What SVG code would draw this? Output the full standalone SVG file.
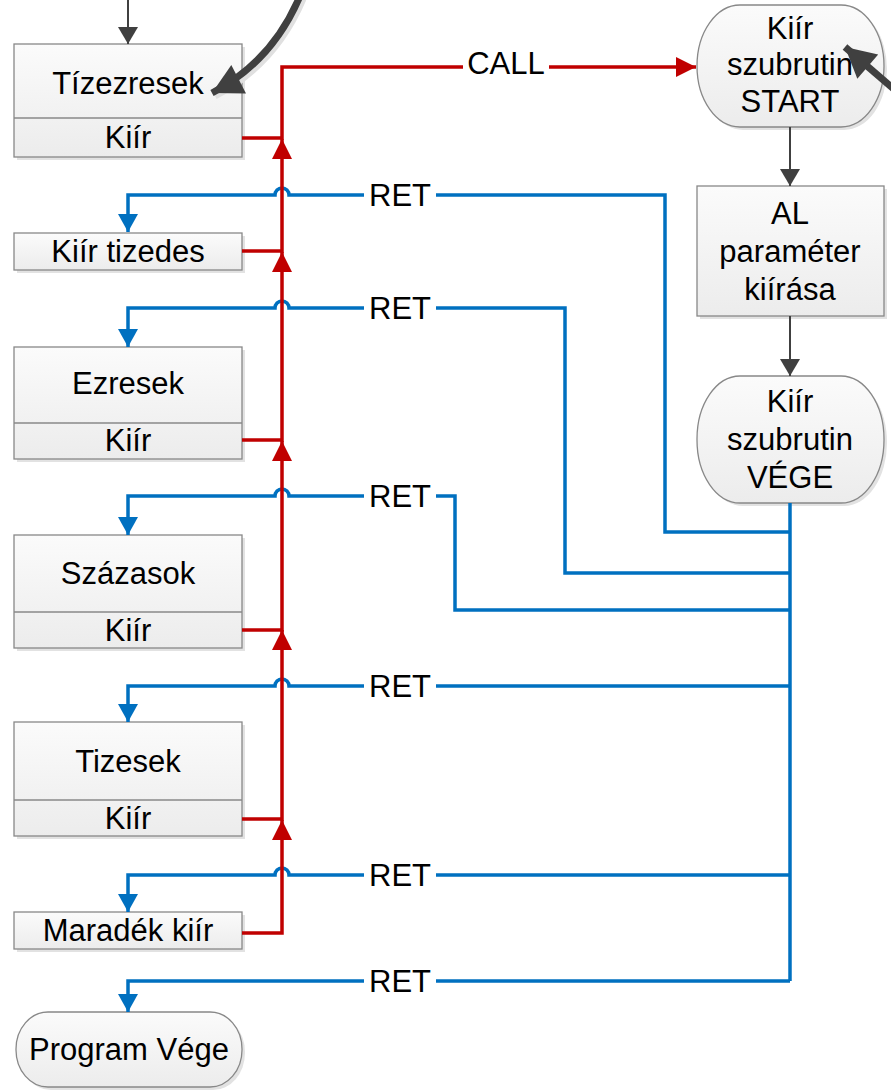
<svg xmlns="http://www.w3.org/2000/svg" width="891" height="1091" viewBox="0 0 891 1091">
<defs>
<linearGradient id="g" x1="0" y1="0" x2="0" y2="1"><stop offset="0" stop-color="#fbfbfb"/><stop offset="1" stop-color="#ececec"/></linearGradient>
<marker id="ar" markerUnits="userSpaceOnUse" markerWidth="40" markerHeight="40" refX="0" refY="0" orient="auto" overflow="visible"><path d="M-20,-10 L0,0 L-20,10 Z" fill="#c00000"/></marker>
<marker id="ab" markerUnits="userSpaceOnUse" markerWidth="40" markerHeight="40" refX="0" refY="0" orient="auto" overflow="visible"><path d="M-18,-10 L0,0 L-18,10 Z" fill="#0070c0"/></marker>
<marker id="ag" markerUnits="userSpaceOnUse" markerWidth="40" markerHeight="40" refX="0" refY="0" orient="auto" overflow="visible"><path d="M-17,-10 L0,0 L-17,10 Z" fill="#404040"/></marker>
<marker id="abig" markerUnits="userSpaceOnUse" markerWidth="60" markerHeight="60" refX="0" refY="0" orient="auto" overflow="visible"><path d="M-30,-16 L0,0 L-30,16 Z" fill="#404040"/></marker>
</defs>
<style>
.box{fill:url(#g);stroke:#888;stroke-width:1.3}
.sh{fill:#e2e2e2}
.t{font-family:"Liberation Sans",Arial,sans-serif;font-size:31px;fill:#000;text-anchor:middle}
.red{fill:none;stroke:#c00000;stroke-width:3.5}
.blue{fill:none;stroke:#0070c0;stroke-width:3.5}
.gray{fill:none;stroke:#404040;stroke-width:2}
.lbl{fill:#fff}
</style>

<g id="tizezresek">
<rect class="sh" x="17" y="47" width="228" height="113"/>
<rect class="box" x="14" y="44" width="228" height="113"/>
<line x1="14" y1="118" x2="242" y2="118" stroke="#888" stroke-width="1.3"/>
<text class="t" x="128" y="94">Tízezresek</text>
<text class="t" x="128" y="148">Kiír</text>
</g>
<g id="kiir-tizedes">
<rect class="sh" x="17" y="236" width="228" height="37"/>
<rect class="box" x="14" y="233" width="228" height="37"/>
<text class="t" x="128" y="262">Kiír tizedes</text>
</g>
<g id="ezresek">
<rect class="sh" x="17" y="350" width="228" height="112"/>
<rect class="box" x="14" y="347" width="228" height="112"/>
<line x1="14" y1="423" x2="242" y2="423" stroke="#888" stroke-width="1.3"/>
<text class="t" x="128" y="394">Ezresek</text>
<text class="t" x="128" y="451">Kiír</text>
</g>
<g id="szazasok">
<rect class="sh" x="17" y="538" width="228" height="113"/>
<rect class="box" x="14" y="535" width="228" height="113"/>
<line x1="14" y1="612" x2="242" y2="612" stroke="#888" stroke-width="1.3"/>
<text class="t" x="128" y="584">Százasok</text>
<text class="t" x="128" y="641">Kiír</text>
</g>
<g id="tizesek">
<rect class="sh" x="17" y="725" width="228" height="114"/>
<rect class="box" x="14" y="722" width="228" height="114"/>
<line x1="14" y1="800" x2="242" y2="800" stroke="#888" stroke-width="1.3"/>
<text class="t" x="128" y="772">Tizesek</text>
<text class="t" x="128" y="829">Kiír</text>
</g>
<g id="maradek">
<rect class="sh" x="17" y="915" width="228" height="37"/>
<rect class="box" x="14" y="912" width="228" height="37"/>
<text class="t" x="128" y="941">Maradék kiír</text>
</g>
<g id="program-vege">
<rect class="sh" x="19" y="1015" width="226" height="75" rx="32" ry="37"/>
<rect class="box" x="16" y="1012" width="226" height="75" rx="32" ry="37" stroke="#555"/>
<text class="t" x="129" y="1060">Program Vége</text>
</g>
<g id="start">
<rect class="sh" x="700" y="8" width="187" height="122" rx="43" ry="61"/>
<rect class="box" x="697" y="5" width="187" height="122" rx="43" ry="61" stroke="#555"/>
<text class="t" x="790" y="39">Kiír</text>
<text class="t" x="790" y="75">szubrutin</text>
<text class="t" x="790" y="112">START</text>
</g>
<g id="al-param">
<rect class="sh" x="700" y="189" width="187" height="130"/>
<rect class="box" x="697" y="186" width="187" height="130"/>
<text class="t" x="790" y="224">AL</text>
<text class="t" x="790" y="262">paraméter</text>
<text class="t" x="790" y="300">kiírása</text>
</g>
<g id="vege">
<rect class="sh" x="700" y="379" width="187" height="127" rx="43" ry="63"/>
<rect class="box" x="697" y="376" width="187" height="127" rx="43" ry="63" stroke="#555"/>
<text class="t" x="790" y="412">Kiír</text>
<text class="t" x="790" y="450">szubrutin</text>
<text class="t" x="790" y="488">VÉGE</text>
</g>

<g id="connectors">
<line class="gray" x1="128" y1="0" x2="128" y2="44" marker-end="url(#ag)"/>
<line class="gray" x1="790" y1="127" x2="790" y2="186" marker-end="url(#ag)"/>
<line class="gray" x1="790" y1="316" x2="790" y2="376" marker-end="url(#ag)"/>
<path d="M300,-4 Q272,62 212,93" fill="none" stroke="#e0e0e0" stroke-width="7" transform="translate(3,3)"/>
<path d="M300,-4 Q272,62 212,93" fill="none" stroke="#404040" stroke-width="7" marker-end="url(#abig)"/>
<path d="M895,90 L845,47" fill="none" stroke="#404040" stroke-width="7" marker-end="url(#abig)"/>

<path class="blue" d="M790,503 V981"/>
<path class="blue" d="M790,532 H665 V195 H289 a7,7 0 0 0 -14,0 H128 V232" marker-end="url(#ab)"/>
<path class="blue" d="M790,573 H565 V308 H289 a7,7 0 0 0 -14,0 H128 V347" marker-end="url(#ab)"/>
<path class="blue" d="M790,610 H455 V496 H289 a7,7 0 0 0 -14,0 H128 V535" marker-end="url(#ab)"/>
<path class="blue" d="M790,686 H289 a7,7 0 0 0 -14,0 H128 V722" marker-end="url(#ab)"/>
<path class="blue" d="M790,875 H289 a7,7 0 0 0 -14,0 H128 V912" marker-end="url(#ab)"/>
<path class="blue" d="M790,981 H128 V1012" marker-end="url(#ab)"/>

<path class="red" d="M242,933 H282 V820" marker-end="url(#ar)"/>
<path class="red" d="M242,819 H282 V630" marker-end="url(#ar)"/>
<path class="red" d="M242,630 H282 V441" marker-end="url(#ar)"/>
<path class="red" d="M242,440 H282 V252" marker-end="url(#ar)"/>
<path class="red" d="M242,251 H282 V139" marker-end="url(#ar)"/>
<path class="red" d="M242,138 H282 V67 H696" marker-end="url(#ar)"/>

<rect class="lbl" x="463" y="50" width="86" height="30"/>
<text class="t" x="506" y="74">CALL</text>
<rect class="lbl" x="364" y="180" width="72" height="30"/>
<text class="t" x="400" y="206">RET</text>
<rect class="lbl" x="364" y="293" width="72" height="30"/>
<text class="t" x="400" y="319">RET</text>
<rect class="lbl" x="364" y="481" width="72" height="30"/>
<text class="t" x="400" y="507">RET</text>
<rect class="lbl" x="364" y="671" width="72" height="30"/>
<text class="t" x="400" y="697">RET</text>
<rect class="lbl" x="364" y="860" width="72" height="30"/>
<text class="t" x="400" y="886">RET</text>
<rect class="lbl" x="364" y="966" width="72" height="30"/>
<text class="t" x="400" y="992">RET</text>
</g>
</svg>
